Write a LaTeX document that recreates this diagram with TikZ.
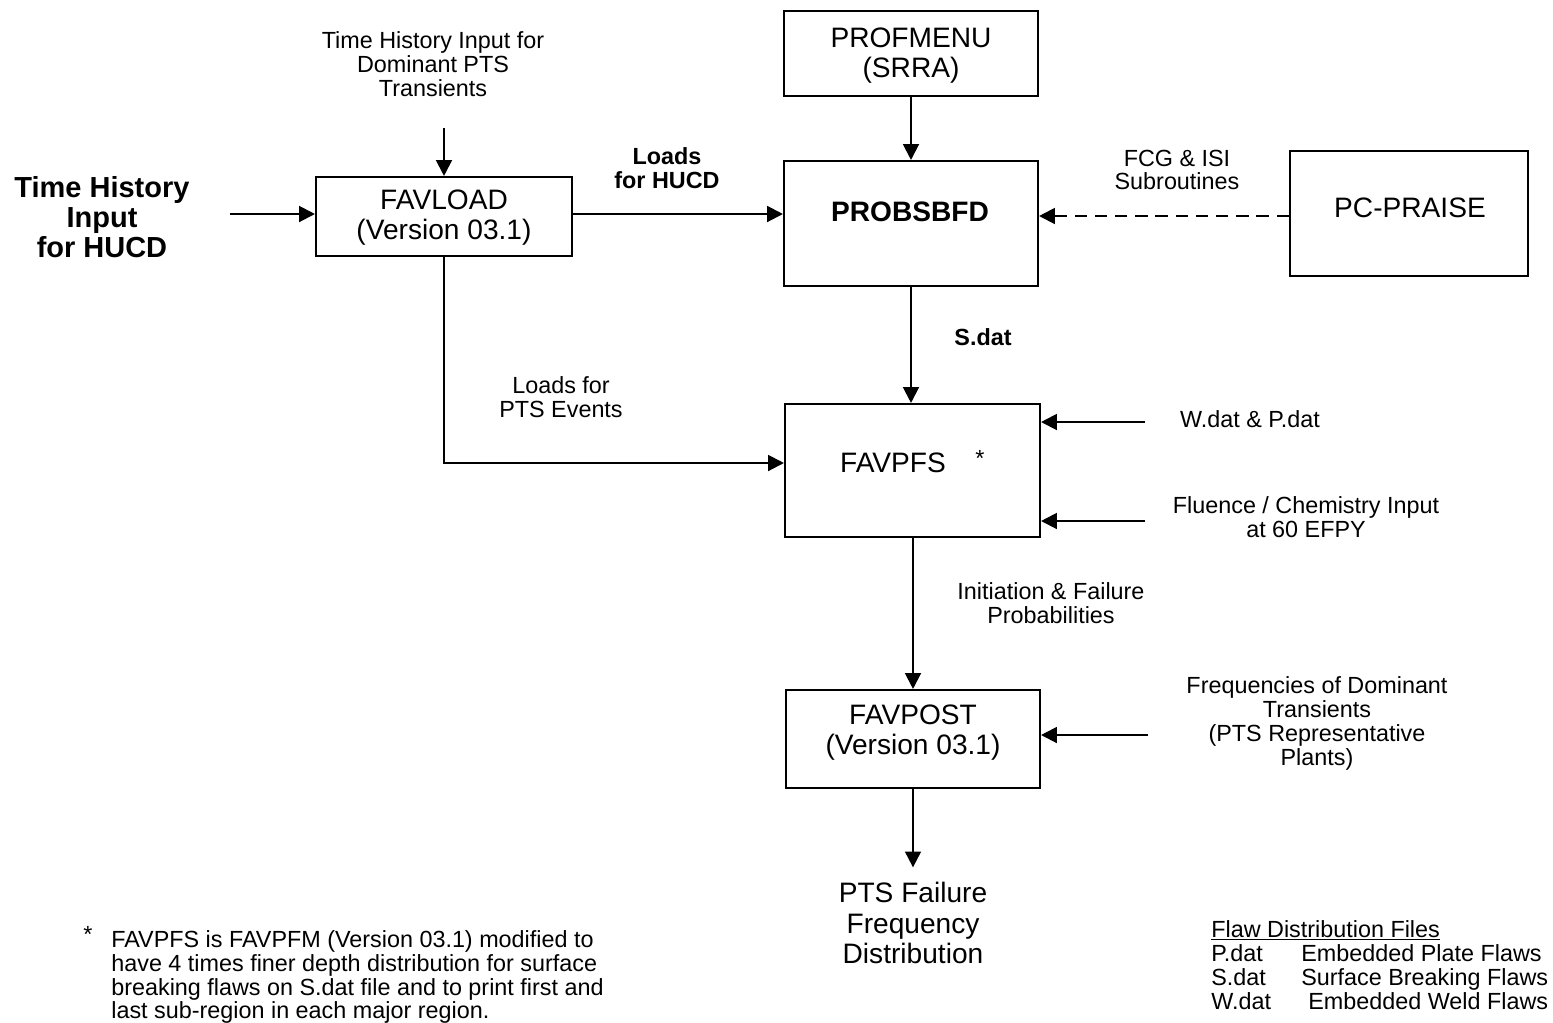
\documentclass[tikz,border=0pt]{standalone}
\usepackage{fontspec}
\setmainfont{Liberation Sans}
\usetikzlibrary{arrows.meta}
\begin{document}
\begin{tikzpicture}[x=0.02cm,y=-0.02cm,
  box/.style={draw,line width=1.2pt,inner sep=0pt},
  arr/.style={line width=1.2pt,-{Triangle[length=9pt,width=9pt]}},
  lbl/.style={font=\fontsize{13.3}{13.6}\selectfont,align=center,inner sep=0pt},
  lbll/.style={font=\fontsize{13.3}{13.6}\selectfont,align=left,inner sep=0pt},
  big/.style={font=\fontsize{16}{17}\selectfont,align=center,inner sep=0pt},
]
\useasboundingbox (0,0) rectangle (1553,1022);
% boxes
\node[box,minimum width=5.08cm,minimum height=1.70cm] (profmenu) at (911,53.5) {};
\node[box,minimum width=5.08cm,minimum height=2.50cm] (probs) at (911,223.5) {};
\node[box,minimum width=4.76cm,minimum height=2.50cm] (praise) at (1409,213.5) {};
\node[box,minimum width=5.12cm,minimum height=1.58cm] (favload) at (444,216.5) {};
\node[box,minimum width=5.10cm,minimum height=2.66cm] (favpfs) at (912.5,470.5) {};
\node[box,minimum width=5.08cm,minimum height=1.96cm] (favpost) at (913,739) {};
% box texts
\node[big] (tprof) at (911,56) {PROFMENU\\(SRRA)};
\node[big,font=\fontsize{16}{17}\selectfont\bfseries] (tprobs) at (910,212) {PROBSBFD};
\node[big] (tpraise) at (1410,208) {PC-PRAISE};
\node[big] (tfavload) at (444,218) {FAVLOAD\\(Version 03.1)};
\node[big] (tfavpfs) at (893,463) {FAVPFS};
\node[lbl] (tstar) at (980,458) {*};
\node[big] (tfavpost) at (913,733) {FAVPOST\\(Version 03.1)};
% labels
\node[lbl] (lth) at (433,64) {Time History Input for\\Dominant PTS\\Transients};
\node[big,font=\fontsize{16.5}{17}\selectfont\bfseries] (lhucd) at (102,217) {Time History\\Input\\for HUCD};
\node[lbl,font=\fontsize{13.3}{13.6}\selectfont\bfseries] (lloads) at (667,168) {Loads\\for HUCD};
\node[lbl] (lfcg) at (1177,170) {FCG \& ISI\\Subroutines};
\node[lbl,font=\fontsize{13.3}{13.6}\selectfont\bfseries] (lsdat) at (983,337) {S.dat};
\node[lbl] (lpts) at (561,397) {Loads for\\PTS Events};
\node[lbl] (lwdat) at (1250,419) {W.dat \& P.dat};
\node[lbl] (lflu) at (1306,517.5) {Fluence / Chemistry Input\\at 60 EFPY};
\node[lbl] (linit) at (1051,603) {Initiation \& Failure\\Probabilities};
\node[lbl] (lfreq) at (1317,723.5) {Frequencies of Dominant\\Transients\\(PTS Representative\\Plants)};
\node[big,font=\fontsize{16}{17.6}\selectfont] (out) at (913,923) {PTS Failure\\Frequency\\Distribution};
% footnote
\node[lbl] (bul) at (88,934) {*};
\node[lbll,anchor=north west] (foot) at (111,930) {FAVPFS is FAVPFM (Version 03.1) modified to\\have 4 times finer depth distribution for surface\\breaking flaws on S.dat file and to print first and\\last sub-region in each major region.};
% legend
\node[lbll,anchor=base west] (leg) at (1211,937) {\underline{Flaw Distribution Files}};
\node[lbll,anchor=base west] (lp) at (1211,961) {P.dat};
\node[lbll,anchor=base west] (ls) at (1211,985) {S.dat};
\node[lbll,anchor=base west] (lw) at (1211,1009) {W.dat};
\node[lbll,anchor=base west] (lpd) at (1301,961) {Embedded Plate Flaws};
\node[lbll,anchor=base west] (lsd) at (1301,985) {Surface Breaking Flaws};
\node[lbll,anchor=base west] (lwd) at (1308,1009) {Embedded Weld Flaws};
% connectors
\coordinate (th) at (444,128);
\coordinate (hin) at (230,214);
\coordinate (dy) at (0,216);
\coordinate (py) at (0,463);
\coordinate (win) at (1145,422);
\coordinate (fin) at (1145,521);
\coordinate (qin) at (1148,735);
\draw[arr] (th) -- (favload.north);
\draw[arr] (hin) -- (hin -| favload.west);
\draw[arr] (favload.east |- hin) -- (probs.west |- hin);
\draw[arr] (profmenu.south) -- (probs.north);
\draw[arr,dash pattern=on 7pt off 4.5pt] (praise.west |- dy) -- (probs.east |- dy);
\draw[arr] (probs.south) -- (probs.south |- favpfs.north);
\draw[arr] (favload.south) |- (favpfs.west |- py);
\draw[arr] (win) -- (win -| favpfs.east);
\draw[arr] (fin) -- (fin -| favpfs.east);
\draw[arr] (favpost.north |- favpfs.south) -- (favpost.north);
\draw[arr] (qin) -- (qin -| favpost.east);
\draw[arr,shorten >=8pt] (favpost.south) -- (favpost.south |- out.north);
\end{tikzpicture}
\end{document}
